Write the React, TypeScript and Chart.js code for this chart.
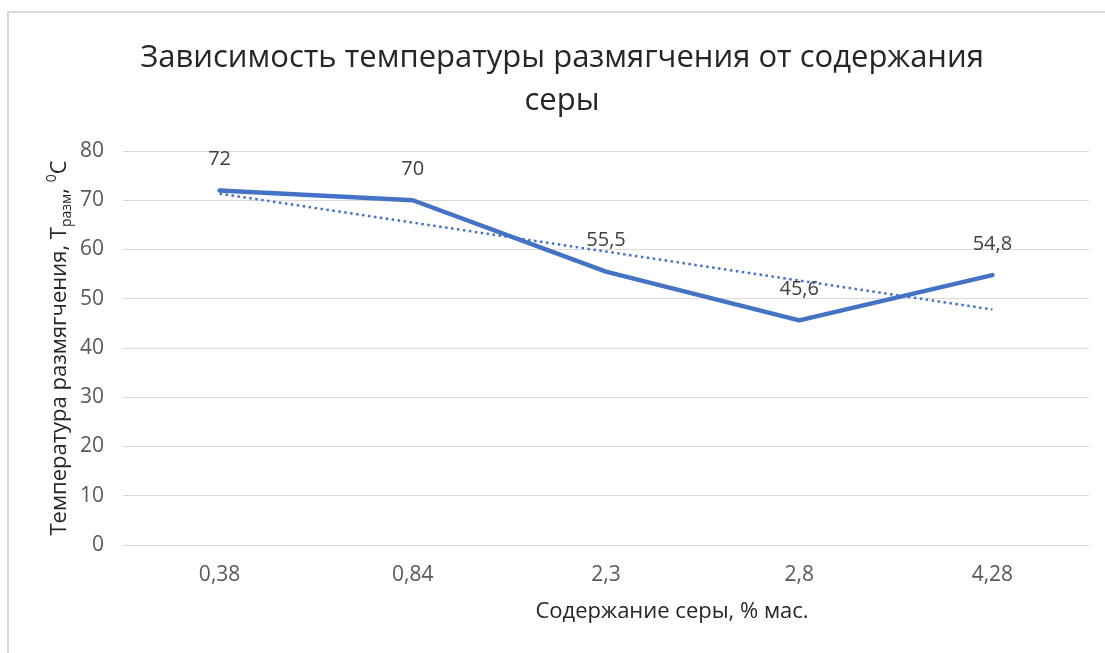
import React, { useEffect, useRef } from 'react';
import { Chart, registerables } from 'chart.js';

Chart.register(...registerables);

const categories = ['0,38', '0,84', '2,3', '2,8', '4,28'];
const temperatures = [72, 70, 55.5, 45.6, 54.8];
const yMin = 0;
const yMax = 80;
const yStep = 10;
const titleLines = ['Зависимость температуры размягчения от содержания', 'серы'];
const xTitle = 'Содержание серы, % мас.';
const yTitleParts = [
  { text: 'Температура размягчения, Т', kind: 'normal' },
  { text: 'разм', kind: 'sub' },
  { text: ', ', kind: 'normal' },
  { text: '0', kind: 'sup' },
  { text: 'C', kind: 'normal' },
];

const LINE_COLOR = '#4472C4';
const FONT = '"Open Sans", "Noto Sans", sans-serif';

// Linear least-squares trendline (as Excel's linear trendline)
function linearTrend(values: number[]): number[] {
  const n = values.length;
  const xs = values.map((_, i) => i);
  const mx = xs.reduce((a, b) => a + b, 0) / n;
  const my = values.reduce((a, b) => a + b, 0) / n;
  let num = 0;
  let den = 0;
  xs.forEach((x, i) => {
    num += (x - mx) * (values[i] - my);
    den += (x - mx) * (x - mx);
  });
  const slope = num / den;
  const intercept = my - slope * mx;
  return xs.map((x) => intercept + slope * x);
}

const fmt = (v: number) => String(v).replace('.', ',');

const decorPlugin = {
  id: 'decor',
  beforeDraw(chart: any) {
    const ctx = chart.ctx as CanvasRenderingContext2D;
    ctx.save();
    ctx.fillStyle = '#ffffff';
    ctx.fillRect(0, 0, chart.width, chart.height);
    ctx.strokeStyle = '#d9d9d9';
    ctx.lineWidth = 2;
    ctx.beginPath();
    ctx.moveTo(8, chart.height + 2);
    ctx.lineTo(8, 12);
    ctx.lineTo(chart.width + 2, 12);
    ctx.stroke();
    ctx.restore();
  },
  afterDraw(chart: any) {
    const ctx = chart.ctx as CanvasRenderingContext2D;
    const area = chart.chartArea;
    ctx.save();
    // Title
    ctx.fillStyle = '#262626';
    ctx.font = `31px ${FONT}`;
    ctx.textAlign = 'center';
    ctx.textBaseline = 'middle';
    titleLines.forEach((line, i) => ctx.fillText(line, 562, 58 + i * 43));
    // X axis title
    ctx.fillStyle = '#262626';
    ctx.font = `22px ${FONT}`;
    ctx.fillText(xTitle, 672, 612);
    // Y axis title with sub/superscripts
    const normalFont = `22px ${FONT}`;
    const smallFont = `14px ${FONT}`;
    let total = 0;
    yTitleParts.forEach((p) => {
      ctx.font = p.kind === 'normal' ? normalFont : smallFont;
      total += ctx.measureText(p.text).width;
    });
    const cy = (area.top + area.bottom) / 2;
    ctx.translate(58, cy);
    ctx.rotate(-Math.PI / 2);
    ctx.textAlign = 'left';
    ctx.textBaseline = 'alphabetic';
    let x = -total / 2;
    const base = 8;
    yTitleParts.forEach((p) => {
      ctx.font = p.kind === 'normal' ? normalFont : smallFont;
      const dy = p.kind === 'sub' ? 5 : p.kind === 'sup' ? -10 : 0;
      ctx.fillText(p.text, x, base + dy);
      x += ctx.measureText(p.text).width;
    });
    ctx.restore();
  },
  afterDatasetsDraw(chart: any) {
    const ctx = chart.ctx as CanvasRenderingContext2D;
    const meta = chart.getDatasetMeta(0);
    ctx.save();
    ctx.fillStyle = '#404040';
    ctx.font = `20px ${FONT}`;
    ctx.textAlign = 'center';
    ctx.textBaseline = 'middle';
    meta.data.forEach((pt: any, i: number) => {
      ctx.fillText(fmt(temperatures[i]), pt.x, pt.y - 31);
    });
    ctx.restore();
  },
};

export default function App() {
  const ref = useRef<HTMLCanvasElement | null>(null);
  useEffect(() => {
    document.body.style.margin = '0';
    const canvas = ref.current;
    if (!canvas) return;
    const chart = new Chart(canvas, {
      type: 'line',
      data: {
        labels: categories,
        datasets: [
          {
            data: temperatures,
            borderColor: LINE_COLOR,
            backgroundColor: LINE_COLOR,
            borderWidth: 4.5,
            pointRadius: 0,
            tension: 0,
            borderJoinStyle: 'round',
            borderCapStyle: 'round',
            order: 2,
          },
          {
            data: linearTrend(temperatures),
            borderColor: LINE_COLOR,
            backgroundColor: LINE_COLOR,
            borderWidth: 2.5,
            borderDash: [2.5, 3.5],
            pointRadius: 0,
            tension: 0,
            order: 1,
          },
        ],
      },
      plugins: [decorPlugin],
      options: {
        responsive: false,
        animation: false,
        layout: { padding: { left: 0, right: 16, top: 151, bottom: 0 } },
        plugins: {
          legend: { display: false },
          title: { display: false },
          tooltip: { enabled: false },
        },
        scales: {
          x: {
            offset: true,
            grid: { display: false, drawTicks: false },
            border: { display: false },
            ticks: { color: '#595959', font: { family: FONT, size: 21 }, padding: 17 },
            afterFit(scale: any) {
              scale.height = 108;
            },
          },
          y: {
            min: yMin,
            max: yMax,
            grid: { color: '#d9d9d9', lineWidth: 1, drawTicks: false },
            border: { display: false },
            ticks: {
              stepSize: yStep,
              color: '#595959',
              font: { family: FONT, size: 21 },
              padding: 19,
            },
            afterFit(scale: any) {
              scale.width = 123;
            },
          },
        },
      },
    } as any);
    return () => chart.destroy();
  }, []);
  return <canvas ref={ref} width={1105} height={653} style={{ display: 'block' }} />;
}
